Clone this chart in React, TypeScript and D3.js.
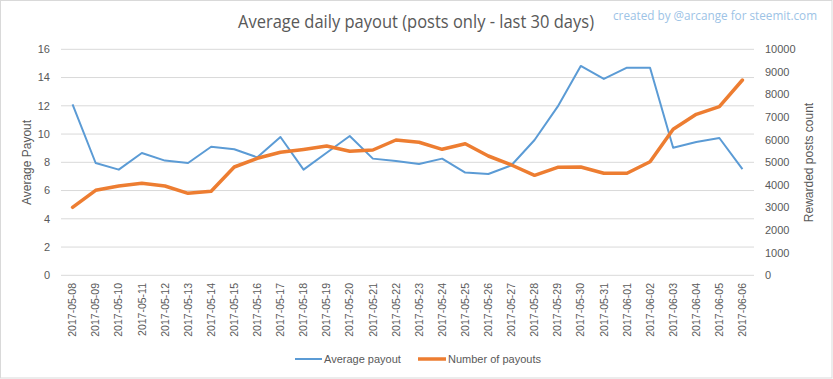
import React from "react";
import * as d3 from "d3";

const dates = [
  "2017-05-08","2017-05-09","2017-05-10","2017-05-11","2017-05-12","2017-05-13","2017-05-14","2017-05-15",
  "2017-05-16","2017-05-17","2017-05-18","2017-05-19","2017-05-20","2017-05-21","2017-05-22","2017-05-23",
  "2017-05-24","2017-05-25","2017-05-26","2017-05-27","2017-05-28","2017-05-29","2017-05-30","2017-05-31",
  "2017-06-01","2017-06-02","2017-06-03","2017-06-04","2017-06-05","2017-06-06",
];
const averagePayout = [
  12.1, 7.95, 7.48, 8.66, 8.12, 7.95, 9.1, 8.92, 8.35, 9.79, 7.48, 8.68, 9.86, 8.26, 8.09, 7.88,
  8.26, 7.27, 7.17, 7.79, 9.58, 11.94, 14.82, 13.9, 14.7, 14.7, 9.03, 9.44, 9.72, 7.52,
];
const numberOfPayouts = [
  3009, 3761, 3951, 4071, 3951, 3628, 3717, 4792, 5177, 5442, 5570, 5721, 5487, 5544, 5987, 5885,
  5575, 5823, 5279, 4881, 4425, 4779, 4792, 4513, 4513, 5027, 6460, 7124, 7460, 8642,
];
const leftTicks = [0, 2, 4, 6, 8, 10, 12, 14, 16];
const rightTicks = [0, 1000, 2000, 3000, 4000, 5000, 6000, 7000, 8000, 9000, 10000];

const W = 833;
const H = 379;
const plot = { left: 61, right: 754, top: 49.3, bottom: 275.3 };
const FONT = "'Liberation Sans', Arial, sans-serif";
const GRAY = "#595959";
const BLUE = "#5b9bd5";
const ORANGE = "#ed7d31";

export default function App() {
  const x = d3.scaleBand<string>().domain(dates).range([plot.left, plot.right]);
  const xc = (d: string) => (x(d) as number) + x.bandwidth() / 2;
  const yL = d3.scaleLinear().domain([0, 16]).range([plot.bottom, plot.top]);
  const yR = d3.scaleLinear().domain([0, 10000]).range([plot.bottom, plot.top]);

  const blueLine = d3.line<number>().x((_, i) => xc(dates[i])).y((v) => yL(v))(averagePayout) || "";
  const orangeLine = d3.line<number>().x((_, i) => xc(dates[i])).y((v) => yR(v))(numberOfPayouts) || "";

  return (
    <svg width={W} height={H} style={{ position: "absolute", left: 0, top: 0, background: "#fff" }} fontFamily={FONT}>
      <rect x={0.5} y={0.5} width={W - 1.5} height={H - 1.5} fill="#fff" stroke="#d9d9d9" />
      <text x={238} y={28} fontSize={18} fill={GRAY} fontFamily="'Open Sans', sans-serif" textLength={356} lengthAdjust="spacingAndGlyphs">
        Average daily payout (posts only - last 30 days)
      </text>
      <text x={613} y={20} fontSize={12} fill="#9dc3e6" fontFamily="'Open Sans', sans-serif" textLength={204} lengthAdjust="spacingAndGlyphs">
        created by @arcange for steemit.com
      </text>
      {leftTicks.map((t) => (
        <g key={"l" + t}>
          <line x1={plot.left} x2={plot.right} y1={yL(t)} y2={yL(t)} stroke="#d9d9d9" strokeWidth={1} />
          <text x={50} y={yL(t)} dy="0.35em" textAnchor="end" fontSize={11} fill={GRAY}>{t}</text>
        </g>
      ))}
      {rightTicks.map((t) => (
        <text key={"r" + t} x={765} y={yR(t)} dy="0.35em" textAnchor="start" fontSize={11} fill={GRAY}>{t}</text>
      ))}
      <text transform={`translate(31,162.5) rotate(-90)`} textAnchor="middle" fontSize={12} fill={GRAY}>Average Payout</text>
      <text transform={`translate(813,162.5) rotate(-90)`} textAnchor="middle" fontSize={12} fill={GRAY}>Rewarded posts count</text>
      {dates.map((d) => (
        <text key={d} transform={`translate(${xc(d)},283) rotate(-90)`} dy="0.35em" textAnchor="end" fontSize={10.5} fill={GRAY}>{d}</text>
      ))}
      <path d={blueLine} fill="none" stroke={BLUE} strokeWidth={2} strokeLinejoin="round" />
      <path d={orangeLine} fill="none" stroke={ORANGE} strokeWidth={3.5} strokeLinejoin="round" strokeLinecap="round" />
      <line x1={295} x2={322} y1={359} y2={359} stroke={BLUE} strokeWidth={2} />
      <text x={324} y={359} dy="0.35em" fontSize={11} fill={GRAY}>Average payout</text>
      <line x1={418} x2={446} y1={359} y2={359} stroke={ORANGE} strokeWidth={3.5} />
      <text x={448} y={359} dy="0.35em" fontSize={11} fill={GRAY}>Number of payouts</text>
    </svg>
  );
}
